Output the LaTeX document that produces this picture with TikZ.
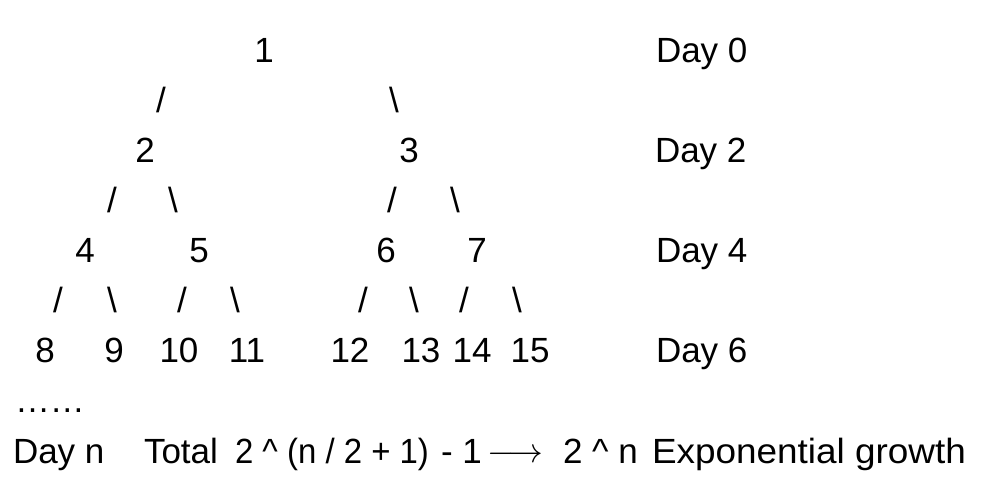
\documentclass[tikz,border=0pt]{standalone}
\usepackage{fontspec}
\setmainfont{Liberation Sans}
\begin{document}
\begin{tikzpicture}[x=1pt,y=-1pt,
  every node/.style={inner sep=0pt,outer sep=0pt,font=\fontsize{35}{42}\selectfont},
  num/.style={anchor=base},
  lnk/.style={anchor=base},
  day/.style={anchor=base west},
  txt/.style={anchor=base west}]
\useasboundingbox (0,0) rectangle (988,502);
% level 0
\node[num] (n1) at (264,63) {1};
\node[day] (d0) at (656,63) {Day 0};
\node[lnk] (s12) at (161,113) {/};
\node[lnk] (s13) at (394,113) {\textbackslash};
% level 1
\node[num] (n2) at (145,163) {2};
\node[num] (n3) at (409,163) {3};
\node[day] (d2) at (655,163) {Day 2};
\node[lnk] (s24) at (112,213) {/};
\node[lnk] (s25) at (173,213) {\textbackslash};
\node[lnk] (s36) at (392,213) {/};
\node[lnk] (s37) at (455,213) {\textbackslash};
% level 2
\node[num] (n4) at (85,263) {4};
\node[num] (n5) at (199,263) {5};
\node[num] (n6) at (386,263) {6};
\node[num] (n7) at (477,263) {7};
\node[day] (d4) at (656,263) {Day 4};
\node[lnk] (s48) at (58,313) {/};
\node[lnk] (s49) at (112,313) {\textbackslash};
\node[lnk] (s510) at (182,313) {/};
\node[lnk] (s511) at (235,313) {\textbackslash};
\node[lnk] (s612) at (363,313) {/};
\node[lnk] (s613) at (414,313) {\textbackslash};
\node[lnk] (s714) at (464,313) {/};
\node[lnk] (s715) at (517,313) {\textbackslash};
% level 3
\node[num] (n8) at (45,363) {8};
\node[num] (n9) at (114,363) {9};
\node[num] (n10) at (179,363) {10};
\node[num] (n11) at (247,363) {11};
\node[num] (n12) at (350,363) {12};
\node[num] (n13) at (421,363) {13};
\node[num] (n14) at (472,363) {14};
\node[num] (n15) at (530,363) {15};
\node[day] (d6) at (656,363) {Day 6};
% bottom
\node[txt] (dots) at (15,413) {……};
\node[txt] (dayn) at (13,463) {Day n};
\node[txt] (tot) at (144,463) {Total};
\node[txt] (form) at (235,463) {\resizebox{194pt}{\height}{2 \^{} (n / 2 + 1)}};
\node[txt] (m1) at (441,463) {- 1};
\node[anchor=base west] (arr) at (487,463) {\resizebox{56pt}{!}{$\longrightarrow$}};
\node[txt] (pow) at (563,463) {2 \^{} n};
\node[txt] (exg) at (652,463) {\resizebox{314pt}{\height}{Exponential growth}};
\end{tikzpicture}
\end{document}
